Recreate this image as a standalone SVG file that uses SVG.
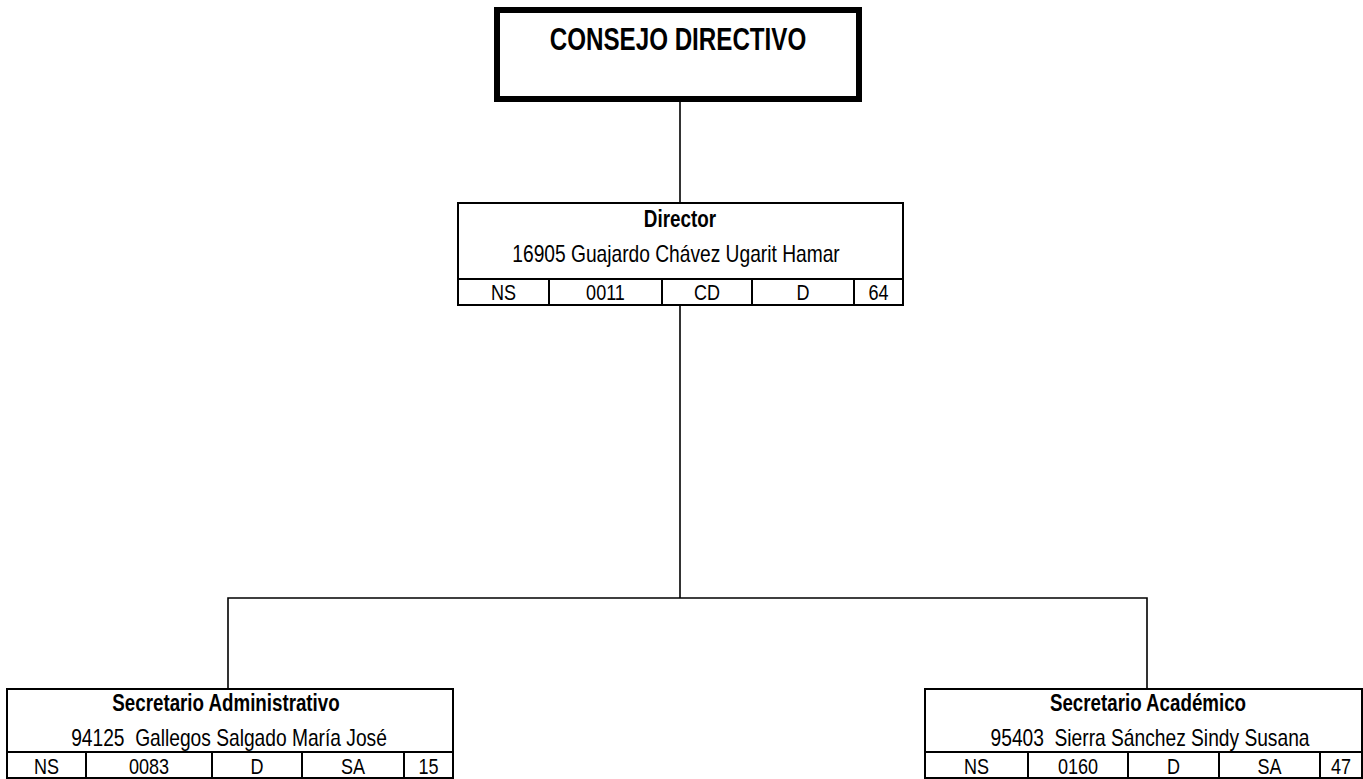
<svg xmlns="http://www.w3.org/2000/svg" width="1363" height="779" viewBox="0 0 1363 779">
<style>
text{font-family:"Liberation Sans",Arial,sans-serif;fill:#000;text-anchor:middle}
.t{font-size:23px;font-weight:bold}
.n{font-size:24px}
.c{font-size:22px}
.big{font-size:31px;font-weight:bold}
.box{fill:#fff;stroke:#000;stroke-width:2}
.ln{fill:none;stroke:#000;stroke-width:2}
.con{fill:none;stroke:#000;stroke-width:1.6}
</style>
<g id="connectors">
<line class="con" x1="680" y1="101" x2="680" y2="203"/>
<line class="con" x1="680" y1="305" x2="680" y2="598"/>
<polyline class="con" points="228,688 228,598 1147,598 1147,688"/>
</g>
<g id="consejo">
<rect x="497" y="10" width="362" height="89" fill="#fff" stroke="#000" stroke-width="6"/>
<text class="big" transform="translate(678,50) scale(0.78,1)">CONSEJO DIRECTIVO</text>
</g>
<g id="director">
<rect class="box" x="458" y="203" width="445" height="102"/>
<line class="ln" x1="458" y1="279" x2="903" y2="279"/>
<line class="ln" x1="549" y1="279" x2="549" y2="305"/>
<line class="ln" x1="662" y1="279" x2="662" y2="305"/>
<line class="ln" x1="752" y1="279" x2="752" y2="305"/>
<line class="ln" x1="854" y1="279" x2="854" y2="305"/>
<text class="t" transform="translate(680,227) scale(0.82,1)">Director</text>
<text class="n" transform="translate(676,261.5) scale(0.8,1)">16905 Guajardo Chávez Ugarit Hamar</text>
<text class="c" transform="translate(503.5,299.5) scale(0.82,1)">NS</text>
<text class="c" transform="translate(605.5,299.5) scale(0.82,1)">0011</text>
<text class="c" transform="translate(707,299.5) scale(0.82,1)">CD</text>
<text class="c" transform="translate(803,299.5) scale(0.82,1)">D</text>
<text class="c" transform="translate(878.5,299.5) scale(0.82,1)">64</text>
</g>
<g id="sec-admin">
<rect class="box" x="7" y="689" width="446" height="89"/>
<line class="ln" x1="7" y1="752" x2="453" y2="752"/>
<line class="ln" x1="86" y1="752" x2="86" y2="778"/>
<line class="ln" x1="212" y1="752" x2="212" y2="778"/>
<line class="ln" x1="302" y1="752" x2="302" y2="778"/>
<line class="ln" x1="404" y1="752" x2="404" y2="778"/>
<text class="t" transform="translate(226,711) scale(0.815,1)">Secretario Administrativo</text>
<text class="n" transform="translate(229,746) scale(0.8,1)" xml:space="preserve">94125  Gallegos Salgado María José</text>
<text class="c" transform="translate(46.5,774) scale(0.82,1)">NS</text>
<text class="c" transform="translate(149,774) scale(0.82,1)">0083</text>
<text class="c" transform="translate(257,774) scale(0.82,1)">D</text>
<text class="c" transform="translate(353,774) scale(0.82,1)">SA</text>
<text class="c" transform="translate(428.5,774) scale(0.82,1)">15</text>
</g>
<g id="sec-acad">
<rect class="box" x="925" y="689" width="437" height="89"/>
<line class="ln" x1="925" y1="752" x2="1362" y2="752"/>
<line class="ln" x1="1028" y1="752" x2="1028" y2="778"/>
<line class="ln" x1="1128" y1="752" x2="1128" y2="778"/>
<line class="ln" x1="1219" y1="752" x2="1219" y2="778"/>
<line class="ln" x1="1320" y1="752" x2="1320" y2="778"/>
<text class="t" transform="translate(1148,711) scale(0.815,1)">Secretario Académico</text>
<text class="n" transform="translate(1150,746) scale(0.8,1)" xml:space="preserve">95403  Sierra Sánchez Sindy Susana</text>
<text class="c" transform="translate(976.5,774) scale(0.82,1)">NS</text>
<text class="c" transform="translate(1078,774) scale(0.82,1)">0160</text>
<text class="c" transform="translate(1173.5,774) scale(0.82,1)">D</text>
<text class="c" transform="translate(1269.5,774) scale(0.82,1)">SA</text>
<text class="c" transform="translate(1341,774) scale(0.82,1)">47</text>
</g>
</svg>
